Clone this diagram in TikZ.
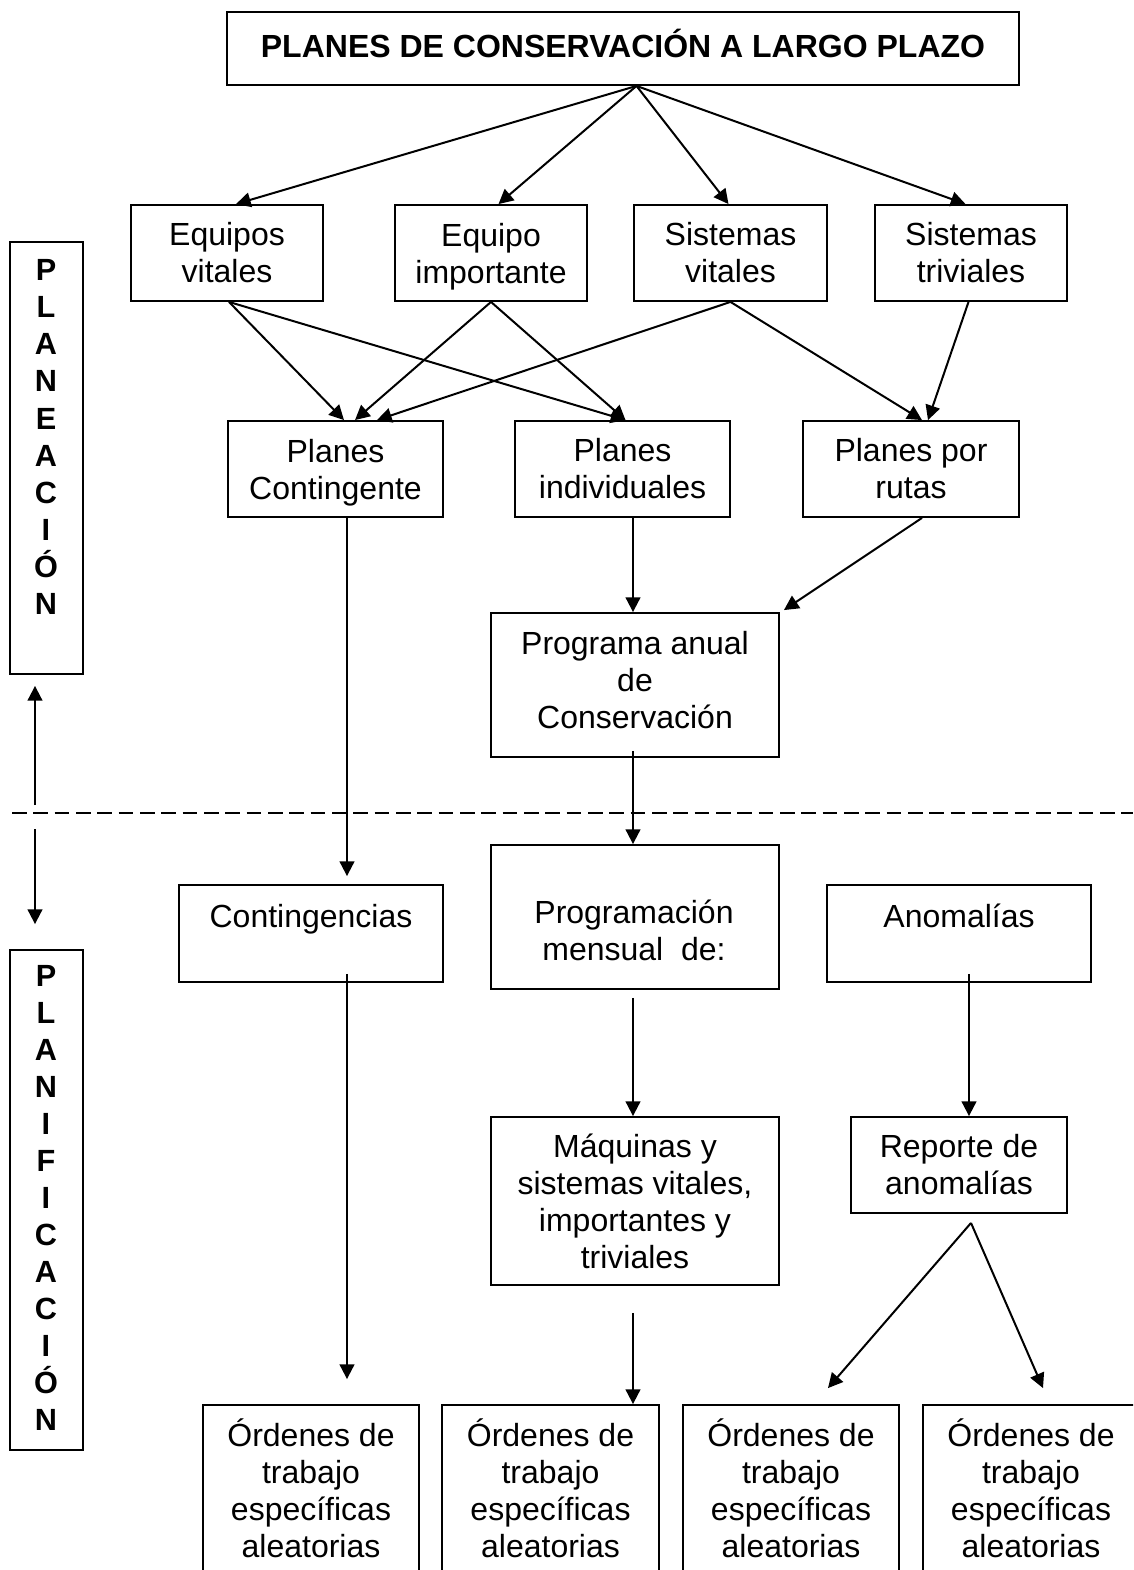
\documentclass[tikz,border=0pt]{standalone}
\usepackage{fontspec}
\setmainfont{Liberation Sans}
\usetikzlibrary{arrows.meta,calc}
% \bx[options]{x1}{y1}{x2}{y2}{name}{text}: box node spanning two corners
\newcommand\bx[6][]{%
  \node[box,#1,minimum width={(#4-#2)*0.75pt},minimum height={(#5-#3)*0.75pt}]
    (#6) at ({(#2+#4)/2},{(#3+#5)/2})}
\begin{document}
\begin{tikzpicture}[x=0.75pt,y=-0.75pt,
  top/.style={execute at begin node={\rule{0pt}{#1}}},
  dep/.style={execute at end node={\rule[-#1]{0pt}{#1}}},
  box/.style={draw,line width=1.4pt,inner sep=0pt,align=center,
              font=\fontsize{24}{27.75}\selectfont},
  txt/.style={align=center,inner sep=0pt,font=\fontsize{24}{27.75}\selectfont,
              top=22.5pt,dep=5pt},
  vtxt/.style={align=center,inner sep=0pt,font=\bfseries\fontsize{23}{27.8}\selectfont},
  arr/.style={line width=1.5pt,-{Triangle[length=11pt,width=11pt]}},
]
\clip (0,0) rectangle (1133,1570);

% ---- top level ----
\bx[font=\bfseries\fontsize{24}{27.75}\selectfont,dep=7.5pt]{227}{12}{1019}{85}{title}
  {PLANES DE CONSERVACIÓN A LARGO PLAZO};

% ---- equipment / systems ----
\bx{131}{205}{323}{301}{ev} {Equipos\\vitales};
\bx{395}{205}{587}{301}{ei} {Equipo\\\smash{importante}};
\bx{634}{205}{827}{301}{sv} {Sistemas\\vitales};
\bx{875}{205}{1067}{301}{st} {Sistemas\\triviales};

% ---- plans ----
\bx{228}{421}{443}{517}{pc} {Planes\\\smash{Contingente}};
\bx{515}{421}{730}{517}{pi} {Planes\\individuales};
\bx{803}{421}{1019}{517}{pr} {Planes por\\rutas};

\bx[dep=7.5pt]{491}{613}{779}{757}{pa} {Programa anual\\de\\Conservación};

% ---- planning level ----
\bx{179}{885}{443}{982}{cont} {};
\node[txt] (cont-t) at (311,916) {Contingencias};
\bx{491}{845}{779}{989}{pm} {};
\node[txt] (pm-t) at (634,934) {Programación\\mensual\ \ de:};
\bx{827}{885}{1091}{982}{anom} {};
\node[txt] (anom-t) at (959,916) {Anomalías};

\bx{491}{1117}{779}{1285}{maq} {Máquinas y\\sistemas vitales,\\importantes y\\triviales};
\bx{851}{1117}{1067}{1213}{rep} {Reporte de\\anomalías};

% ---- work orders ----
\bx{203}{1405}{419}{1572}{o1} {Órdenes de\\trabajo\\específicas\\aleatorias};
\bx{442}{1405}{659}{1572}{o2} {Órdenes de\\trabajo\\específicas\\aleatorias};
\bx{683}{1405}{899}{1572}{o3} {Órdenes de\\trabajo\\específicas\\aleatorias};
\bx{923}{1405}{1139}{1572}{o4} {Órdenes de\\trabajo\\específicas\\aleatorias};

% ---- side labels ----
\bx{10}{242}{83}{674}{p1} {};
\node[vtxt] (p1-t) at (46,437) {P\\L\\A\\N\\E\\A\\C\\I\\Ó\\N};
\bx{10}{950}{83}{1450}{p2} {};
\node[vtxt] (p2-t) at (46,1198) {P\\L\\A\\N\\I\\F\\I\\C\\A\\C\\I\\Ó\\N};

% ---- divider ----
\coordinate (dash-l) at (12,813);
\coordinate (dash-r) at (1133,813);
\draw[line width=1.4pt,dash pattern=on 11pt off 5pt] (dash-l) -- (dash-r);
\draw[arr] ($(dash-l)+(23,-8)$) -- ($(p1.south)+(-11.5,11)$);
\draw[arr] ($(dash-l)+(23,16)$) -- ($(p2.north)+(-11.5,-25)$);

% ---- connectors ----
\draw[arr] ($(title.south)+(13.5,0)$) -- ($(ev.north)+(9,0)$);
\draw[arr] ($(title.south)+(13.5,0)$) -- ($(ei.north)+(7.5,0)$);
\draw[arr] ($(title.south)+(13.5,0)$) -- ($(sv.north)+(-2,0)$);
\draw[arr] ($(title.south)+(13.5,0)$) -- ($(st.north)+(-5.5,0)$);

\draw[arr] ($(ev.south)+(2,0)$) -- ($(pc.north)+(8.5,0)$);
\draw[arr] ($(ev.south)+(2,0)$) -- ($(pi.north)+(3,0)$);
\draw[arr] (ei.south) -- ($(pc.north)+(19.5,0)$);
\draw[arr] (ei.south) -- ($(pi.north)+(3,0)$);
\draw[arr] (sv.south) -- ($(pc.north)+(41.5,0)$);
\draw[arr] (sv.south) -- ($(pr.north)+(11,0)$);
\draw[arr] ($(st.south)+(-2.5,0)$) -- ($(pr.north)+(17,0)$);

\draw[arr] ($(pc.south)+(11.5,0)$) -- ($(cont.north)+(36,-8)$);
\draw[arr] ($(pi.south)+(10.5,0)$) -- ($(pa.north)+(-2,0)$);
\draw[arr] ($(pr.south)+(11,0)$) -- ($(pa.north east)+(4,-2)$);
\draw[arr] ($(pa.south)+(-2,-7)$) -- ($(pm.north)+(-2,0)$);

\draw[arr] ($(cont.south)+(36,-9)$) -- ($(o1.north)+(36,-25)$);
\draw[arr] ($(pm.south)+(-2,8)$) -- ($(maq.north)+(-2,0)$);
\draw[arr] ($(anom.south)+(10,-9)$) -- ($(rep.north)+(10,0)$);
\draw[arr] ($(maq.south)+(-2,27)$) -- ($(o2.north)+(82.5,0)$);
\draw[arr] ($(rep.south)+(12,9)$) -- ($(o3.north)+(37,-16)$);
\draw[arr] ($(rep.south)+(12,9)$) -- ($(o4.north)+(12,-16)$);
\end{tikzpicture}
\end{document}
